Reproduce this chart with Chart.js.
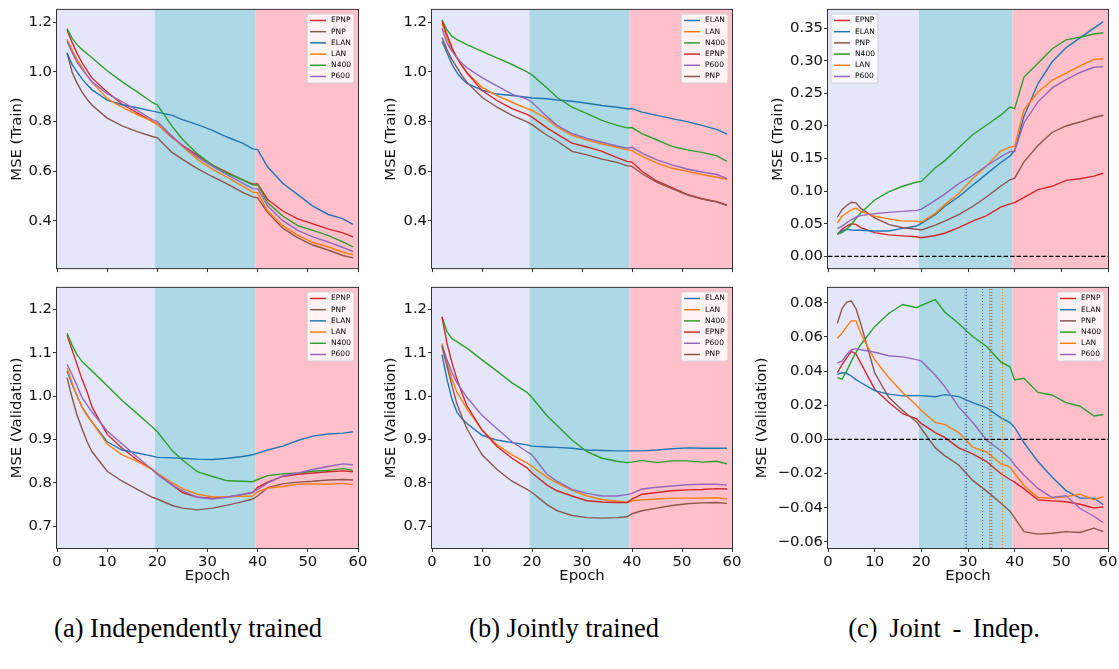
<!DOCTYPE html>
<html>
<head>
<meta charset="utf-8">
<script src="https://cdn.jsdelivr.net/npm/chart.js@4.4.0/dist/chart.umd.min.js"></script>
<style>
  body { margin: 0; background: #fff; width: 1119px; height: 669px; position: relative; overflow: hidden; }
  canvas { position: absolute; }
  .cap { position: absolute; top: 615px; font-family: "Liberation Serif", "Times New Roman", serif; font-size: 26.5px; line-height: 26.5px; color: #000; transform: translateX(-50%); white-space: nowrap; }
</style>
</head>
<body>
<canvas id="indepTrain" width="373" height="278" style="left:0;top:0"></canvas>
<canvas id="jointTrain" width="373" height="278" style="left:373px;top:0"></canvas>
<canvas id="diffTrain" width="373" height="278" style="left:746px;top:0"></canvas>
<canvas id="indepVal" width="373" height="322" style="left:0;top:278px"></canvas>
<canvas id="jointVal" width="373" height="322" style="left:373px;top:278px"></canvas>
<canvas id="diffVal" width="373" height="322" style="left:746px;top:278px"></canvas>
<div class="cap" style="left:188px">(a) Independently trained</div>
<div class="cap" style="left:564px">(b) Jointly trained</div>
<div class="cap" style="left:944px;word-spacing:5px">(c) Joint - Indep.</div>

<script>
// epochs at which every curve is sampled
const epochs = [2, 3, 4, 5, 6, 7, 10, 13, 16, 19, 20, 23, 25, 28, 31, 34, 37, 39, 40, 42, 45, 48, 51, 54, 57, 59];
const xTicks = [0, 10, 20, 30, 40, 50, 60];
const phaseEdges = [0, 19.5, 39.5, 60];

const trainTicks = [0.4, 0.6, 0.8, 1.0, 1.2];
const valTicks = [0.7, 0.8, 0.9, 1.0, 1.1, 1.2];
const diffTrainTicks = [0, 0.05, 0.1, 0.15, 0.2, 0.25, 0.3, 0.35];
const diffValTicks = [-0.06, -0.04, -0.02, 0, 0.02, 0.04, 0.06, 0.08];

// (a) independently trained, train MSE
const indepTrainEPNP = [1.169, 1.12, 1.075, 1.037, 1.005, 0.975, 0.919, 0.87, 0.835, 0.801, 0.79, 0.735, 0.705, 0.664, 0.625, 0.595, 0.565, 0.549, 0.549, 0.486, 0.44, 0.408, 0.388, 0.368, 0.352, 0.336];
const indepTrainPNP = [1.077, 1.0, 0.955, 0.919, 0.89, 0.866, 0.814, 0.783, 0.76, 0.74, 0.735, 0.675, 0.648, 0.611, 0.578, 0.548, 0.515, 0.497, 0.493, 0.434, 0.371, 0.332, 0.303, 0.283, 0.261, 0.251];
const indepTrainELAN = [1.077, 1.03, 1.0, 0.972, 0.948, 0.928, 0.887, 0.868, 0.856, 0.842, 0.838, 0.825, 0.808, 0.788, 0.765, 0.737, 0.713, 0.69, 0.687, 0.617, 0.552, 0.506, 0.46, 0.427, 0.408, 0.386];
const indepTrainLAN = [1.132, 1.09, 1.05, 1.018, 0.985, 0.958, 0.893, 0.857, 0.828, 0.801, 0.79, 0.74, 0.7, 0.648, 0.608, 0.575, 0.54, 0.516, 0.513, 0.44, 0.381, 0.342, 0.313, 0.296, 0.274, 0.264];
const indepTrainN400 = [1.175, 1.136, 1.11, 1.09, 1.073, 1.057, 1.005, 0.96, 0.92, 0.877, 0.867, 0.78, 0.729, 0.67, 0.624, 0.591, 0.565, 0.546, 0.545, 0.473, 0.42, 0.381, 0.362, 0.342, 0.316, 0.296];
const indepTrainP600 = [1.123, 1.08, 1.04, 1.011, 0.985, 0.96, 0.913, 0.88, 0.845, 0.808, 0.8, 0.74, 0.703, 0.657, 0.62, 0.585, 0.552, 0.53, 0.529, 0.46, 0.401, 0.362, 0.336, 0.316, 0.293, 0.277];

// (b) jointly trained, train MSE
const jointTrainELAN = [1.123, 1.077, 1.03, 0.997, 0.973, 0.954, 0.927, 0.911, 0.905, 0.898, 0.895, 0.892, 0.887, 0.882, 0.874, 0.865, 0.858, 0.852, 0.852, 0.838, 0.825, 0.812, 0.8, 0.785, 0.768, 0.75];
const jointTrainLAN = [1.196, 1.136, 1.09, 1.057, 1.025, 0.997, 0.938, 0.905, 0.878, 0.852, 0.845, 0.81, 0.779, 0.745, 0.726, 0.71, 0.697, 0.686, 0.683, 0.66, 0.633, 0.612, 0.6, 0.587, 0.576, 0.567];
const jointTrainN400 = [1.21, 1.17, 1.143, 1.13, 1.12, 1.11, 1.083, 1.057, 1.03, 1.0, 0.988, 0.935, 0.898, 0.858, 0.832, 0.805, 0.785, 0.775, 0.776, 0.752, 0.726, 0.7, 0.686, 0.676, 0.662, 0.64];
const jointTrainEPNP = [1.205, 1.15, 1.097, 1.057, 1.025, 0.997, 0.925, 0.885, 0.852, 0.829, 0.818, 0.775, 0.75, 0.713, 0.698, 0.68, 0.655, 0.64, 0.637, 0.6, 0.56, 0.534, 0.507, 0.49, 0.478, 0.464];
const jointTrainP600 = [1.176, 1.117, 1.083, 1.057, 1.035, 1.017, 0.977, 0.944, 0.911, 0.891, 0.878, 0.82, 0.785, 0.752, 0.732, 0.717, 0.702, 0.693, 0.697, 0.673, 0.646, 0.626, 0.609, 0.597, 0.587, 0.57];
const jointTrainPNP = [1.139, 1.09, 1.05, 1.017, 0.985, 0.958, 0.898, 0.858, 0.825, 0.799, 0.788, 0.745, 0.722, 0.68, 0.666, 0.649, 0.636, 0.623, 0.62, 0.59, 0.555, 0.53, 0.505, 0.488, 0.476, 0.462];

// (c) joint minus independent, train MSE
const diffTrainEPNP = [0.034, 0.0415, 0.0465, 0.05, 0.049, 0.044, 0.0365, 0.033, 0.0315, 0.03, 0.0285, 0.032, 0.0355, 0.044, 0.054, 0.0625, 0.0755, 0.0805, 0.0825, 0.0905, 0.1025, 0.1075, 0.1165, 0.119, 0.123, 0.1275];
const diffTrainELAN = [0.034, 0.039, 0.0415, 0.0405, 0.04, 0.04, 0.039, 0.039, 0.043, 0.0465, 0.0505, 0.064, 0.0765, 0.0915, 0.109, 0.1265, 0.144, 0.154, 0.162, 0.215, 0.265, 0.298, 0.32, 0.335, 0.35, 0.36];
const diffTrainPNP = [0.06, 0.0715, 0.078, 0.083, 0.082, 0.074, 0.059, 0.049, 0.044, 0.0415, 0.0405, 0.048, 0.054, 0.064, 0.0765, 0.0915, 0.1075, 0.1175, 0.12, 0.145, 0.17, 0.19, 0.2, 0.206, 0.213, 0.2165];
const diffTrainN400 = [0.034, 0.0365, 0.0415, 0.049, 0.058, 0.0665, 0.0865, 0.099, 0.1075, 0.114, 0.115, 0.136, 0.1465, 0.1665, 0.1865, 0.2015, 0.2165, 0.229, 0.2265, 0.275, 0.296, 0.318, 0.332, 0.336, 0.341, 0.343];
const diffTrainLAN = [0.0515, 0.0615, 0.0665, 0.0715, 0.074, 0.069, 0.0615, 0.0575, 0.054, 0.054, 0.0525, 0.066, 0.079, 0.0965, 0.119, 0.139, 0.1615, 0.1675, 0.169, 0.225, 0.252, 0.27, 0.281, 0.292, 0.302, 0.303];
const diffTrainP600 = [0.0425, 0.0465, 0.0515, 0.0565, 0.06, 0.0625, 0.0655, 0.0675, 0.069, 0.0705, 0.0725, 0.086, 0.0955, 0.1115, 0.124, 0.139, 0.1525, 0.1605, 0.1615, 0.205, 0.237, 0.258, 0.271, 0.282, 0.29, 0.291];

// (a) independently trained, validation MSE
const indepValEPNP = [1.141, 1.107, 1.073, 1.039, 1.01, 0.975, 0.912, 0.88, 0.853, 0.831, 0.82, 0.795, 0.778, 0.767, 0.765, 0.768, 0.773, 0.778, 0.79, 0.802, 0.815, 0.82, 0.823, 0.826, 0.828, 0.826];
const indepValPNP = [1.043, 0.997, 0.956, 0.925, 0.895, 0.872, 0.827, 0.804, 0.785, 0.767, 0.763, 0.748, 0.742, 0.738, 0.742, 0.749, 0.757, 0.763, 0.77, 0.789, 0.798, 0.802, 0.804, 0.807, 0.808, 0.807];
const indepValELAN = [1.058, 1.028, 1.001, 0.975, 0.957, 0.94, 0.895, 0.876, 0.869, 0.862, 0.859, 0.858, 0.857, 0.855, 0.854, 0.857, 0.861, 0.865, 0.869, 0.876, 0.885, 0.898, 0.908, 0.913, 0.915, 0.918];
const indepValLAN = [1.065, 1.031, 1.001, 0.975, 0.955, 0.94, 0.89, 0.865, 0.85, 0.831, 0.823, 0.8, 0.787, 0.774, 0.768, 0.768, 0.769, 0.77, 0.78, 0.788, 0.792, 0.797, 0.798, 0.797, 0.799, 0.796];
const indepValN400 = [1.146, 1.118, 1.096, 1.08, 1.069, 1.058, 1.024, 0.99, 0.96, 0.929, 0.918, 0.874, 0.853, 0.826, 0.815, 0.805, 0.804, 0.803, 0.808, 0.817, 0.821, 0.823, 0.827, 0.829, 0.833, 0.829];
const indepValP600 = [1.074, 1.05, 1.024, 0.997, 0.98, 0.963, 0.92, 0.89, 0.86, 0.831, 0.821, 0.795, 0.782, 0.767, 0.763, 0.767, 0.774, 0.779, 0.785, 0.8, 0.816, 0.823, 0.831, 0.838, 0.844, 0.842];

// (b) jointly trained, validation MSE
const jointValELAN = [1.096, 1.039, 0.993, 0.963, 0.948, 0.937, 0.91, 0.899, 0.893, 0.888, 0.885, 0.883, 0.882, 0.88, 0.876, 0.875, 0.874, 0.874, 0.874, 0.874, 0.876, 0.879, 0.881, 0.88, 0.88, 0.88];
const jointValLAN = [1.122, 1.077, 1.039, 1.009, 0.99, 0.971, 0.922, 0.888, 0.865, 0.846, 0.838, 0.813, 0.8, 0.783, 0.77, 0.762, 0.758, 0.755, 0.759, 0.761, 0.763, 0.765, 0.765, 0.765, 0.766, 0.763];
const jointValN400 = [1.183, 1.149, 1.133, 1.126, 1.118, 1.111, 1.084, 1.058, 1.031, 1.009, 0.997, 0.955, 0.933, 0.899, 0.872, 0.857, 0.85, 0.847, 0.848, 0.852, 0.847, 0.851, 0.851, 0.848, 0.85, 0.844];
const jointValEPNP = [1.183, 1.122, 1.077, 1.039, 1.007, 0.978, 0.922, 0.884, 0.857, 0.835, 0.823, 0.795, 0.782, 0.77, 0.759, 0.756, 0.755, 0.755, 0.763, 0.774, 0.778, 0.782, 0.784, 0.785, 0.787, 0.786];
const jointValP600 = [1.118, 1.084, 1.054, 1.031, 1.014, 0.997, 0.956, 0.925, 0.895, 0.872, 0.865, 0.82, 0.804, 0.785, 0.776, 0.77, 0.77, 0.773, 0.776, 0.786, 0.79, 0.793, 0.796, 0.797, 0.797, 0.795];
const jointValPNP = [1.115, 1.069, 1.024, 0.982, 0.952, 0.925, 0.865, 0.831, 0.804, 0.785, 0.778, 0.75, 0.736, 0.725, 0.72, 0.719, 0.72, 0.722, 0.729, 0.736, 0.742, 0.748, 0.752, 0.754, 0.755, 0.753];

// (c) joint minus independent, validation MSE
const diffValEPNP = [0.039, 0.0438, 0.0477, 0.0515, 0.05, 0.0448, 0.0294, 0.0217, 0.015, 0.012, 0.0092, 0.004, 0.0012, -0.005, -0.0085, -0.013, -0.02, -0.0235, -0.025, -0.029, -0.0354, -0.036, -0.0365, -0.038, -0.0402, -0.0395];
const diffValELAN = [0.0381, 0.039, 0.0387, 0.0371, 0.035, 0.0333, 0.0285, 0.0265, 0.0255, 0.0256, 0.0256, 0.025, 0.0262, 0.025, 0.0215, 0.0185, 0.0127, 0.0098, 0.007, -0.002, -0.013, -0.022, -0.03, -0.0344, -0.0344, -0.0383];
const diffValPNP = [0.0679, 0.0765, 0.0804, 0.081, 0.0765, 0.0679, 0.039, 0.0246, 0.0169, 0.0102, 0.0063, -0.005, -0.0095, -0.015, -0.024, -0.0303, -0.0373, -0.0421, -0.046, -0.054, -0.0555, -0.055, -0.054, -0.0545, -0.052, -0.054];
const diffValN400 = [0.0362, 0.0352, 0.04, 0.0458, 0.051, 0.0554, 0.066, 0.0737, 0.079, 0.0771, 0.0785, 0.0819, 0.0746, 0.0679, 0.0602, 0.0544, 0.0454, 0.0425, 0.0348, 0.0358, 0.0275, 0.026, 0.0215, 0.0194, 0.0137, 0.0146];
const diffValLAN = [0.0592, 0.0621, 0.066, 0.0694, 0.0694, 0.0621, 0.0467, 0.0362, 0.0275, 0.0198, 0.0169, 0.0098, 0.0088, 0.004, -0.0045, -0.0075, -0.0142, -0.0162, -0.02, -0.027, -0.034, -0.0344, -0.0335, -0.0321, -0.0354, -0.0335];
const diffValP600 = [0.0448, 0.0458, 0.0496, 0.0525, 0.0531, 0.0525, 0.051, 0.049, 0.0483, 0.0467, 0.0458, 0.0375, 0.031, 0.019, 0.01, -0.0005, -0.0065, -0.0113, -0.015, -0.021, -0.0287, -0.034, -0.033, -0.0405, -0.045, -0.0488];

// dotted verticals in the validation difference panel
const markMethods = ['P600', 'ELAN', 'PNP', 'EPNP', 'N400', 'LAN'];
const markEpochs = [29.4, 29.7, 33.1, 34.7, 35.1, 37.4];

const colors = { EPNP: '#d62728', PNP: '#8c564b', ELAN: '#1f77b4', LAN: '#ff7f0e', N400: '#2ca02c', P600: '#9467bd' };
const phaseColors = ['#e6e6fa', '#add8e6', '#ffc0cb'];
const FONT = 'DejaVu Sans';

const phaseBands = {
  id: 'phaseBands',
  beforeDraw(chart) {
    const { ctx, chartArea: a, scales: { x } } = chart;
    ctx.save();
    for (let i = 0; i < phaseColors.length; i++) {
      const x0 = x.getPixelForValue(phaseEdges[i]);
      const x1 = x.getPixelForValue(phaseEdges[i + 1]);
      ctx.fillStyle = phaseColors[i];
      ctx.fillRect(x0, a.top, x1 - x0, a.bottom - a.top);
    }
    ctx.restore();
  },
  afterDraw(chart) {
    const { ctx, chartArea: a } = chart;
    ctx.save();
    ctx.strokeStyle = '#333';
    ctx.lineWidth = 1;
    ctx.strokeRect(a.left - 0.5, a.top - 0.5, a.right - a.left + 1, a.bottom - a.top + 1);
    ctx.restore();
  }
};

const boxLegend = {
  id: 'boxLegend',
  afterDatasetsDraw(chart, args, opts) {
    const { ctx, chartArea: a } = chart;
    const items = chart.data.datasets.filter(d => d.label);
    ctx.save();
    ctx.font = '7.5px "' + FONT + '"';
    const textW = Math.max(...items.map(d => ctx.measureText(d.label).width));
    const rowH = 11.2, sample = 16, pad = 3;
    const w = pad + sample + 5 + textW + pad;
    const h = rowH * items.length + 2;
    const x0 = opts.side === 'left' ? a.left + 3 : a.right - 4 - w;
    const y0 = a.top + 4;
    ctx.beginPath();
    ctx.roundRect(x0, y0, w, h, 2);
    ctx.fillStyle = 'rgba(255,255,255,0.8)';
    ctx.fill();
    ctx.strokeStyle = '#d0d0d0';
    ctx.lineWidth = 1;
    ctx.stroke();
    items.forEach((d, i) => {
      const cy = y0 + 1 + rowH * (i + 0.5);
      ctx.strokeStyle = d.borderColor;
      ctx.lineWidth = 1.5;
      ctx.beginPath();
      ctx.moveTo(x0 + pad, cy);
      ctx.lineTo(x0 + pad + sample, cy);
      ctx.stroke();
      ctx.fillStyle = '#000';
      ctx.textBaseline = 'middle';
      ctx.textAlign = 'left';
      ctx.fillText(d.label, x0 + pad + sample + 5, cy);
    });
    ctx.restore();
  }
};

const panels = [
  { id: 'indepTrain', series: [['EPNP', indepTrainEPNP], ['PNP', indepTrainPNP], ['ELAN', indepTrainELAN], ['LAN', indepTrainLAN], ['N400', indepTrainN400], ['P600', indepTrainP600]],
    yMin: 0.21, yMax: 1.25, yTicks: trainTicks, dec: 1, yTitle: 'MSE (Train)', yW: 57, padR: 15, titlePad: 8, bottomRow: false, legend: 'right' },
  { id: 'jointTrain', series: [['ELAN', jointTrainELAN], ['LAN', jointTrainLAN], ['N400', jointTrainN400], ['EPNP', jointTrainEPNP], ['P600', jointTrainP600], ['PNP', jointTrainPNP]],
    yMin: 0.21, yMax: 1.25, yTicks: trainTicks, dec: 1, yTitle: 'MSE (Train)', yW: 59, padR: 14, titlePad: 9, bottomRow: false, legend: 'right' },
  { id: 'diffTrain', series: [['EPNP', diffTrainEPNP], ['ELAN', diffTrainELAN], ['PNP', diffTrainPNP], ['N400', diffTrainN400], ['LAN', diffTrainLAN], ['P600', diffTrainP600]],
    yMin: -0.018, yMax: 0.378, yTicks: diffTrainTicks, dec: 2, yTitle: 'MSE (Train)', yW: 82, padR: 11, titlePad: 23, bottomRow: false, legend: 'left', zero: true },
  { id: 'indepVal', series: [['EPNP', indepValEPNP], ['PNP', indepValPNP], ['ELAN', indepValELAN], ['LAN', indepValLAN], ['N400', indepValN400], ['P600', indepValP600]],
    yMin: 0.65, yMax: 1.25, yTicks: valTicks, dec: 1, yTitle: 'MSE (Validation)', yW: 57, padR: 15, titlePad: 8, bottomRow: true, legend: 'right' },
  { id: 'jointVal', series: [['ELAN', jointValELAN], ['LAN', jointValLAN], ['N400', jointValN400], ['EPNP', jointValEPNP], ['P600', jointValP600], ['PNP', jointValPNP]],
    yMin: 0.65, yMax: 1.25, yTicks: valTicks, dec: 1, yTitle: 'MSE (Validation)', yW: 59, padR: 14, titlePad: 9, bottomRow: true, legend: 'right' },
  { id: 'diffVal', series: [['EPNP', diffValEPNP], ['ELAN', diffValELAN], ['PNP', diffValPNP], ['N400', diffValN400], ['LAN', diffValLAN], ['P600', diffValP600]],
    yMin: -0.0636, yMax: 0.0887, yTicks: diffValTicks, dec: 2, yTitle: 'MSE (Validation)', yW: 82, padR: 11, titlePad: 7, bottomRow: true, legend: 'right', zero: true, marks: true }
];

function drawPanel(p) {
  const datasets = p.series.map(([name, vals], i) => ({
    label: name,
    data: epochs.map((e, k) => ({ x: e, y: vals[k] })),
    borderColor: colors[name],
    borderWidth: 1.4,
    pointRadius: 0,
    tension: 0,
    fill: false,
    order: -i
  }));
  if (p.marks) {
    markMethods.forEach((m, i) => datasets.push({
      label: '',
      data: [{ x: markEpochs[i], y: p.yMin }, { x: markEpochs[i], y: p.yMax }],
      borderColor: colors[m], borderWidth: 1, borderDash: [1.1, 1.9], pointRadius: 0, order: -20 - i
    }));
  }
  if (p.zero) {
    datasets.push({
      label: '',
      data: [{ x: 0, y: 0 }, { x: 60, y: 0 }],
      borderColor: '#000', borderWidth: 1.2, borderDash: [4.5, 2], pointRadius: 0, order: -40
    });
  }

  const tickFont = { family: FONT, size: 14.8 };
  new Chart(document.getElementById(p.id), {
    type: 'line',
    data: { datasets },
    plugins: [phaseBands, boxLegend],
    options: {
      responsive: false,
      animation: false,
      events: [],
      layout: { padding: { left: 0, right: p.padR, top: p.bottomRow ? 6 : 9, bottom: 0 } },
      plugins: {
        legend: { display: false },
        tooltip: { enabled: false },
        boxLegend: { side: p.legend }
      },
      scales: {
        x: {
          type: 'linear', min: 0, max: 60,
          afterBuildTicks: s => { s.ticks = xTicks.map(v => ({ value: v })); },
          afterFit: s => { s.height = p.bottomRow ? 52 : 5; },
          grid: { drawOnChartArea: false, drawTicks: true, tickLength: 4, color: '#333' },
          border: { display: false },
          ticks: { display: p.bottomRow, font: tickFont, color: '#111', padding: 1, maxRotation: 0 },
          title: { display: p.bottomRow, text: 'Epoch', font: tickFont, color: '#111', padding: { top: 0, bottom: 15 } }
        },
        y: {
          type: 'linear', min: p.yMin, max: p.yMax,
          afterBuildTicks: s => { s.ticks = p.yTicks.map(v => ({ value: v })); },
          afterFit: s => { s.width = p.yW; },
          grid: { drawOnChartArea: false, drawTicks: true, tickLength: 4, color: '#333' },
          border: { display: false },
          ticks: { font: tickFont, color: '#111', padding: 1, callback: v => v.toFixed(p.dec).replace('-', '\u2212') },
          title: { display: true, text: p.yTitle, font: tickFont, color: '#111', padding: { top: p.titlePad, bottom: 0 } }
        }
      }
    }
  });
}

panels.forEach(drawPanel);
</script>
</body>
</html>
